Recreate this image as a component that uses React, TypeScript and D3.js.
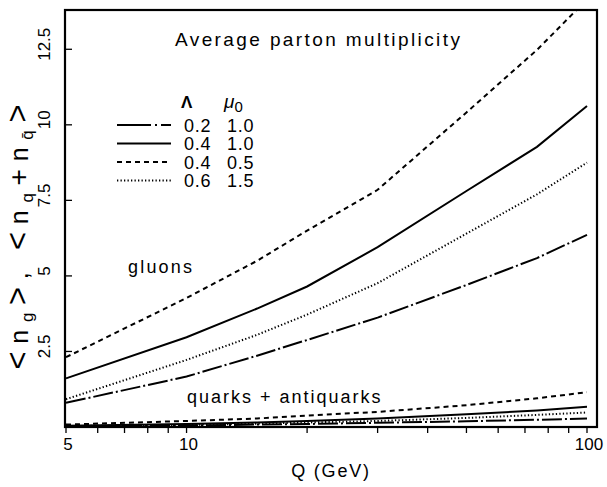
import React from 'react';
import * as d3 from 'd3';

// Q values (GeV) at which curves are sampled
const Q_GEV = [5, 10, 15, 20, 30, 50, 75, 100];

// Gluon multiplicities <n_g>
const GLUON_L02_MU10 = [0.8, 1.67, 2.36, 2.88, 3.62, 4.7, 5.59, 6.36];
const GLUON_L04_MU10 = [1.61, 2.97, 3.92, 4.65, 5.95, 7.81, 9.27, 10.62];
const GLUON_L04_MU05 = [2.31, 4.27, 5.5, 6.5, 7.85, 10.41, 12.48, 14.15];
const GLUON_L06_MU15 = [0.92, 2.22, 3.05, 3.72, 4.76, 6.4, 7.7, 8.75];

// Quark + antiquark multiplicities <n_q + n_qbar>
const QUARK_L02_MU10 = [0.02, 0.05, 0.08, 0.1, 0.14, 0.19, 0.24, 0.28];
const QUARK_L04_MU10 = [0.04, 0.1, 0.15, 0.2, 0.28, 0.42, 0.55, 0.67];
const QUARK_L04_MU05 = [0.08, 0.2, 0.28, 0.38, 0.5, 0.72, 0.95, 1.15];
const QUARK_L06_MU15 = [0.03, 0.07, 0.11, 0.15, 0.2, 0.3, 0.4, 0.48];

const LEGEND_LAMBDA = ['0.2', '0.4', '0.4', '0.6'];
const LEGEND_MU0 = ['1.0', '1.0', '0.5', '1.5'];

const X_MAJOR = [5, 10, 100];
const X_MINOR = [6, 7, 8, 9, 20, 30, 40, 50, 60, 70, 80, 90];
const Y_TICKS = [2.5, 5, 7.5, 10, 12.5];

const W = 607;
const H = 487;
const FRAME = { left: 65, top: 10, right: 597, bottom: 427 };

const STYLES = [
  { dash: '20,3,2,3', legendDash: '34,4,2,4,20' },
  { dash: null, legendDash: null },
  { dash: '5,4', legendDash: '5,4' },
  { dash: '1.3,2.2', legendDash: '1.3,2.2' },
];

const FONT = '"Liberation Sans", Arial, Helvetica, sans-serif';

export default function App() {
  const x = d3.scaleLog().domain([5, 100]).range([66, 587]);
  const y = d3.scaleLinear().domain([0, 13.8]).range([427, 10]);

  const line = d3
    .line<[number, number]>()
    .x((d) => x(d[0]))
    .y((d) => y(d[1]));

  const gluons = [GLUON_L02_MU10, GLUON_L04_MU10, GLUON_L04_MU05, GLUON_L06_MU15];
  const quarks = [QUARK_L02_MU10, QUARK_L04_MU10, QUARK_L04_MU05, QUARK_L06_MU15];

  const mk = (vals: number[]) => line(Q_GEV.map((q, i) => [q, vals[i]] as [number, number])) || '';

  const legendRowY = [125, 143.5, 162, 180.5];

  return (
    <svg
      width={W}
      height={H}
      style={{ position: 'absolute', left: 0, top: 0, background: '#fff' }}
      fontFamily={FONT}
    >
      <defs>
        <clipPath id="plotclip">
          <rect
            x={FRAME.left}
            y={FRAME.top}
            width={FRAME.right - FRAME.left}
            height={FRAME.bottom - FRAME.top}
          />
        </clipPath>
      </defs>
      <rect x={0} y={0} width={W} height={H} fill="#fff" />

      {/* curves */}
      <g clipPath="url(#plotclip)" fill="none" stroke="#000" strokeWidth={2}>
        {gluons.map((g, i) => (
          <path key={'g' + i} d={mk(g)} strokeDasharray={STYLES[i].dash || undefined} />
        ))}
        {quarks.map((g, i) => (
          <path key={'q' + i} d={mk(g)} strokeDasharray={STYLES[i].dash || undefined} />
        ))}
      </g>

      {/* frame */}
      <rect
        x={FRAME.left}
        y={FRAME.top}
        width={FRAME.right - FRAME.left}
        height={FRAME.bottom - FRAME.top}
        fill="none"
        stroke="#000"
        strokeWidth={2.2}
      />

      {/* x ticks */}
      {X_MAJOR.concat(X_MINOR).map((t) => (
        <line
          key={'xt' + t}
          x1={x(t)}
          x2={x(t)}
          y1={FRAME.bottom}
          y2={FRAME.bottom + 6}
          stroke="#000"
          strokeWidth={1.3}
        />
      ))}
      {X_MAJOR.map((t) => (
        <text key={'xl' + t} x={x(t) + 2} y={450} fontSize={17} textAnchor="middle">
          {String(t)}
        </text>
      ))}

      {/* y ticks */}
      {Y_TICKS.map((t) => (
        <line
          key={'yt' + t}
          x1={FRAME.left}
          x2={FRAME.left + 7}
          y1={y(t)}
          y2={y(t)}
          stroke="#000"
          strokeWidth={1.3}
        />
      ))}
      {Y_TICKS.map((t) => (
        <text
          key={'yl' + t}
          transform={`translate(50,${y(t) - 5}) rotate(-90)`}
          fontSize={17}
          textAnchor="middle"
        >
          {String(t)}
        </text>
      ))}

      {/* axis titles */}
      <text x={331} y={477} fontSize={18} letterSpacing={1.8} textAnchor="middle">
        Q (GeV)
      </text>
      <text
        transform="translate(28,237) rotate(-90)"
        fontSize={25}
        textAnchor="middle"
        textLength={265}
        lengthAdjust="spacing"
      >
        <tspan fontSize={31}>{'<'}</tspan>
        <tspan>n</tspan>
        <tspan fontSize={17} dy={5}>g</tspan>
        <tspan fontSize={31} dy={-5}>{'>'}</tspan>
        <tspan>{', '}</tspan>
        <tspan fontSize={31}>{'<'}</tspan>
        <tspan>n</tspan>
        <tspan fontSize={17} dy={5}>q</tspan>
        <tspan fontSize={28} dy={-5}>{'+'}</tspan>
        <tspan>n</tspan>
        <tspan fontSize={17} dy={5}>{'q\u0304'}</tspan>
        <tspan fontSize={31} dy={-5}>{'>'}</tspan>
      </text>

      {/* annotations */}
      <text x={175} y={46} fontSize={19} letterSpacing={2.4}>
        Average parton multiplicity
      </text>
      <text x={128} y={273} fontSize={18} letterSpacing={2.2}>
        gluons
      </text>
      <text x={187} y={403} fontSize={18} letterSpacing={2}>
        quarks + antiquarks
      </text>

      {/* legend */}
      <text x={181} y={108} fontSize={17} fontWeight="bold">
        {'\u039B'}
      </text>
      <text x={224} y={108} fontSize={19} fontStyle="italic">
        {'\u03BC'}
        <tspan fontSize={15} fontStyle="normal" dy={4}>0</tspan>
      </text>
      {LEGEND_LAMBDA.map((l, i) => (
        <g key={'lg' + i}>
          <line
            x1={117}
            x2={171}
            y1={legendRowY[i]}
            y2={legendRowY[i]}
            stroke="#000"
            strokeWidth={2}
            strokeDasharray={STYLES[i].legendDash || undefined}
          />
          <text x={184} y={legendRowY[i] + 6.5} fontSize={18} letterSpacing={0.8}>
            {l}
          </text>
          <text x={227} y={legendRowY[i] + 6.5} fontSize={18} letterSpacing={0.8}>
            {LEGEND_MU0[i]}
          </text>
        </g>
      ))}
    </svg>
  );
}
